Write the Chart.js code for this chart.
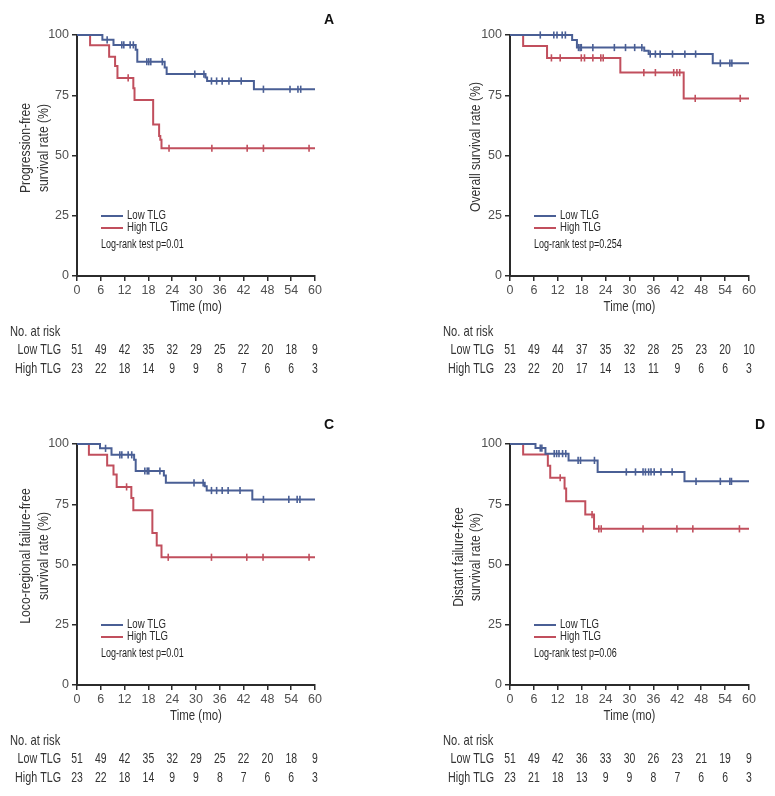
<!DOCTYPE html>
<html><head><meta charset="utf-8">
<script src="https://cdn.jsdelivr.net/npm/chart.js@4.4.0/dist/chart.umd.min.js"></script>
<style>
html,body{margin:0;padding:0;background:#fff;}
#wrap{position:relative;width:775px;height:796px;overflow:hidden;background:#fff;}
canvas{position:absolute;}
</style></head><body>
<div id="wrap">
<canvas id="cA" width="388" height="400" style="left:0px;top:0px"></canvas>
<canvas id="cB" width="387" height="400" style="left:388px;top:0px"></canvas>
<canvas id="cC" width="388" height="396" style="left:0px;top:400px"></canvas>
<canvas id="cD" width="387" height="396" style="left:388px;top:400px"></canvas>
</div>
<script>
// ---- shared ticks / labels ----
const timeTicks = [0, 6, 12, 18, 24, 30, 36, 42, 48, 54, 60];
const rateTicks = [0, 25, 50, 75, 100];
const seriesNames = ['Low TLG', 'High TLG'];

// ---- Panel A: progression-free survival ----
const aLowT = [0, 6.4, 9.2, 14.8, 15.2, 22.1, 22.6, 32.4, 32.8, 44.6, 60];
const aLowS = [100, 98.0, 95.9, 93.9, 88.9, 86.5, 83.8, 82.4, 80.9, 77.5, 77.5];
const aLowCens = [7.6, 11.3, 11.8, 13.4, 14.2, 17.6, 18.1, 18.6, 21.5, 29.7, 32.0, 33.9, 35.2, 36.6, 38.3, 41.4, 47.0, 53.7, 55.7, 56.4];
const aHighT = [0, 3.3, 8.1, 9.6, 10.2, 14.2, 14.5, 19.2, 20.7, 21.0, 21.3, 60];
const aHighS = [100, 95.7, 91.0, 87.1, 82.2, 77.9, 73.0, 62.9, 58.1, 56.5, 53.0, 53.0];
const aHighCens = [12.9, 23.2, 34.0, 42.9, 47.0, 58.5];
const aRiskLow = [51, 49, 42, 35, 32, 29, 25, 22, 20, 18, 9];
const aRiskHigh = [23, 22, 18, 14, 9, 9, 8, 7, 6, 6, 3];

// ---- Panel B: overall survival ----
const bLowT = [0, 15.6, 16.8, 33.7, 34.8, 50.9, 60];
const bLowS = [100, 97.9, 94.8, 93.5, 92.1, 88.3, 88.3];
const bLowCens = [7.6, 11.0, 11.8, 13.1, 13.9, 17.2, 17.6, 17.9, 20.8, 26.2, 29.0, 31.3, 33.1, 35.2, 36.5, 37.7, 40.8, 43.9, 46.6, 52.8, 55.2, 55.7];
const bHighT = [0, 3.3, 9.3, 27.7, 43.6, 60];
const bHighS = [100, 95.4, 90.5, 84.4, 73.7, 73.7];
const bHighCens = [10.4, 12.6, 17.9, 18.7, 20.8, 22.8, 23.4, 33.6, 36.5, 41.1, 41.9, 42.6, 46.5, 57.8];
const bRiskLow = [51, 49, 44, 37, 35, 32, 28, 25, 23, 20, 10];
const bRiskHigh = [23, 22, 20, 17, 14, 13, 11, 9, 6, 6, 3];

// ---- Panel C: loco-regional failure-free survival ----
const cLowT = [0, 5.8, 8.7, 14.4, 14.8, 21.9, 22.4, 32.2, 32.7, 44.2, 60];
const cLowS = [100, 98.2, 95.5, 93.5, 88.8, 86.9, 83.9, 82.5, 80.7, 77.0, 77.0];
const cLowCens = [7.2, 10.8, 11.3, 12.9, 13.8, 17.1, 17.7, 18.1, 20.9, 29.5, 31.8, 33.9, 35.2, 36.6, 38.1, 41.1, 47.0, 53.4, 55.5, 56.2];
const cHighT = [0, 3.0, 7.6, 9.2, 10.0, 13.7, 14.2, 19.0, 20.1, 21.3, 60];
const cHighS = [100, 95.5, 91.1, 87.3, 82.2, 77.6, 72.5, 63.1, 57.9, 53.0, 53.0];
const cHighCens = [12.5, 23.0, 33.9, 42.8, 46.9, 58.5];
const cRiskLow = [51, 49, 42, 35, 32, 29, 25, 22, 20, 18, 9];
const cRiskHigh = [23, 22, 18, 14, 9, 9, 8, 7, 6, 6, 3];

// ---- Panel D: distant failure-free survival ----
const dLowT = [0, 6.4, 8.9, 14.7, 22.0, 43.8, 60];
const dLowS = [100, 98.3, 96.0, 93.2, 88.4, 84.5, 84.5];
const dLowCens = [7.6, 8.0, 11.1, 11.7, 12.3, 13.2, 14.0, 17.1, 17.7, 21.2, 29.2, 31.5, 33.4, 34.0, 34.8, 35.4, 36.2, 37.9, 40.7, 46.7, 52.8, 55.2, 55.6];
const dHighT = [0, 3.3, 9.5, 10.1, 13.7, 14.1, 18.9, 21.1, 60];
const dHighS = [100, 95.6, 91.0, 86.0, 81.5, 76.2, 70.7, 64.8, 64.8];
const dHighCens = [12.6, 20.6, 22.3, 22.9, 33.4, 41.9, 45.9, 57.6];
const dRiskLow = [51, 49, 42, 36, 33, 30, 26, 23, 21, 19, 9];
const dRiskHigh = [23, 21, 18, 13, 9, 9, 8, 7, 6, 6, 3];

const BLUE = '#4a5f95';
const RED = '#c14f5d';
const AXIS = '#2b2b2b';
const TICKTXT = '#505050';
const TXT = '#333333';
const FONT = '"Liberation Sans", Arial, sans-serif';

function stepValue(T, S, t) {
  let v = S[0];
  for (let i = 0; i < T.length; i++) { if (T[i] <= t) v = S[i]; }
  return v;
}

// condensed text helper (horizontal squeeze to mimic a narrow typeface)
function txt(ctx, s, x, y, align, size, sx, color, weight) {
  ctx.save();
  ctx.translate(x, y);
  ctx.scale(sx, 1);
  ctx.font = (weight || '') + ' ' + size + 'px ' + FONT;
  ctx.fillStyle = color;
  ctx.textAlign = align;
  ctx.textBaseline = 'middle';
  ctx.fillText(s, 0, 0);
  ctx.restore();
}

function makePanel(id, cfg) {
  const canvas = document.getElementById(id);
  const W = canvas.width, H = canvas.height;
  const xAxisH = 30;
  const extras = {
    id: 'extras_' + id,
    afterDraw(chart) {
      const ctx = chart.ctx;
      const ca = chart.chartArea;
      const xs = chart.scales.x;
      // panel letter
      txt(ctx, cfg.letter, cfg.letterX, cfg.letterY, 'center', 14, 1, '#111', 'bold');
      // y title (rotated)
      cfg.yTitle.forEach((line, i) => {
        ctx.save();
        ctx.translate(cfg.yTitleX[i], cfg.yTitleY);
        ctx.rotate(-Math.PI / 2);
        txt(ctx, line, 0, 0, 'center', 14.5, 0.84, TXT);
        ctx.restore();
      });
      // x title
      txt(ctx, 'Time (mo)', (ca.left + ca.right) / 2, ca.bottom + 31, 'center', 14.5, 0.79, TXT);
      // legend inside plot
      const lx0 = ca.left + 24, lx1 = ca.left + 46;
      const ly = [ca.bottom - 60, ca.bottom - 48];
      [BLUE, RED].forEach((c, i) => {
        ctx.save();
        ctx.strokeStyle = c; ctx.lineWidth = 2;
        ctx.beginPath(); ctx.moveTo(lx0, ly[i]); ctx.lineTo(lx1, ly[i]); ctx.stroke();
        ctx.restore();
        txt(ctx, seriesNames[i], ca.left + 50, ly[i], 'left', 12, 0.8, '#2a2a2a');
      });
      txt(ctx, 'Log-rank test p=' + cfg.p, lx0, ca.bottom - 31, 'left', 12, 0.75, '#1e1e1e');
      // risk table
      txt(ctx, 'No. at risk', cfg.noX, ca.bottom + 56, 'left', 14.5, 0.77, TXT);
      txt(ctx, seriesNames[0], cfg.labR, ca.bottom + 74, 'right', 14.5, 0.74, TXT);
      txt(ctx, seriesNames[1], cfg.labR, ca.bottom + 93, 'right', 14.5, 0.74, TXT);
      timeTicks.forEach((t, i) => {
        const px = xs.getPixelForValue(t);
        txt(ctx, String(cfg.riskLow[i]), px, ca.bottom + 74, 'center', 14.5, 0.72, TXT);
        txt(ctx, String(cfg.riskHigh[i]), px, ca.bottom + 93, 'center', 14.5, 0.72, TXT);
      });
    }
  };
  const curve = (T, S, c) => ({
    type: 'line', data: T.map((t, i) => ({ x: t, y: S[i] })), stepped: 'before',
    borderColor: c, borderWidth: 2, pointRadius: 0, fill: false, clip: false, order: 2
  });
  const cens = (T, S, C, c) => ({
    type: 'scatter', data: C.map(t => ({ x: t, y: stepValue(T, S, t) })),
    pointStyle: 'line', rotation: 90, pointRadius: 3.6, borderColor: c, backgroundColor: c,
    borderWidth: 1.6, clip: false, order: 1
  });
  return new Chart(canvas, {
    type: 'line',
    data: {
      datasets: [
        curve(cfg.lowT, cfg.lowS, BLUE),
        curve(cfg.highT, cfg.highS, RED),
        cens(cfg.lowT, cfg.lowS, cfg.lowC, BLUE),
        cens(cfg.highT, cfg.highS, cfg.highC, RED)
      ]
    },
    options: {
      responsive: false, animation: false, devicePixelRatio: 1,
      layout: { padding: { left: 0, top: cfg.top, right: W - cfg.right, bottom: H - cfg.bottom - xAxisH } },
      plugins: { legend: { display: false }, tooltip: { enabled: false } },
      events: [],
      scales: {
        x: {
          type: 'linear', min: 0, max: 60,
          afterBuildTicks: s => { s.ticks = timeTicks.map(v => ({ value: v })); },
          ticks: { color: TICKTXT, font: { family: FONT, size: 12.5 }, padding: 2, maxRotation: 0, autoSkip: false },
          grid: { drawOnChartArea: false, drawTicks: true, tickLength: 5, color: AXIS, lineWidth: 1.5 },
          border: { display: true, color: AXIS, width: 2 },
          afterFit: s => { s.height = xAxisH; }
        },
        y: {
          type: 'linear', min: 0, max: 100,
          afterBuildTicks: s => { s.ticks = rateTicks.map(v => ({ value: v })); },
          ticks: { color: TICKTXT, font: { family: FONT, size: 12.5 }, padding: 3 },
          grid: { drawOnChartArea: false, drawTicks: true, tickLength: 5, color: AXIS, lineWidth: 1.5 },
          border: { display: true, color: AXIS, width: 2 },
          afterFit: s => { s.width = cfg.left; }
        }
      }
    },
    plugins: [extras]
  });
}

makePanel('cA', { letter: 'A', letterX: 329, letterY: 20, left: 77, right: 315, top: 35, bottom: 276,
  yTitle: ['Progression-free', 'survival rate (%)'], yTitleX: [26, 44], yTitleY: 148,
  p: '0.01', noX: 10, labR: 61,
  lowT: aLowT, lowS: aLowS, lowC: aLowCens, highT: aHighT, highS: aHighS, highC: aHighCens,
  riskLow: aRiskLow, riskHigh: aRiskHigh });
makePanel('cB', { letter: 'B', letterX: 372, letterY: 20, left: 122, right: 361, top: 35, bottom: 276,
  yTitle: ['Overall survival rate (%)'], yTitleX: [88], yTitleY: 147,
  p: '0.254', noX: 55, labR: 106,
  lowT: bLowT, lowS: bLowS, lowC: bLowCens, highT: bHighT, highS: bHighS, highC: bHighCens,
  riskLow: bRiskLow, riskHigh: bRiskHigh });
makePanel('cC', { letter: 'C', letterX: 329, letterY: 25, left: 77, right: 315, top: 44, bottom: 285,
  yTitle: ['Loco-regional failure-free', 'survival rate (%)'], yTitleX: [26, 44], yTitleY: 156,
  p: '0.01', noX: 10, labR: 61,
  lowT: cLowT, lowS: cLowS, lowC: cLowCens, highT: cHighT, highS: cHighS, highC: cHighCens,
  riskLow: cRiskLow, riskHigh: cRiskHigh });
makePanel('cD', { letter: 'D', letterX: 372, letterY: 25, left: 122, right: 361, top: 44, bottom: 285,
  yTitle: ['Distant failure-free', 'survival rate (%)'], yTitleX: [71, 88], yTitleY: 157,
  p: '0.06', noX: 55, labR: 106,
  lowT: dLowT, lowS: dLowS, lowC: dLowCens, highT: dHighT, highS: dHighS, highC: dHighCens,
  riskLow: dRiskLow, riskHigh: dRiskHigh });
</script>
</body></html>
